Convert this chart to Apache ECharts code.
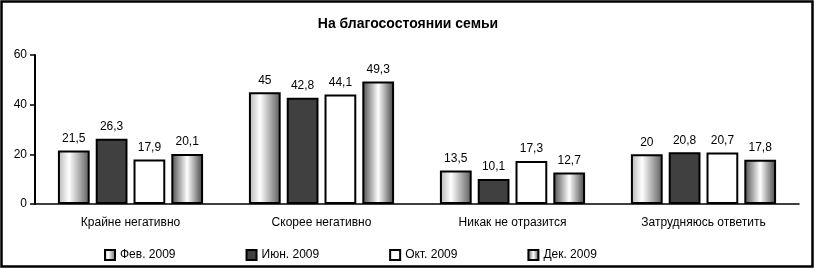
<!DOCTYPE html>
<html>
<head>
<meta charset="utf-8">
<script src="https://cdn.jsdelivr.net/npm/echarts@6/dist/echarts.min.js"></script>
<style>
    html,body{margin:0;padding:0;background:#fff;}
    #main{width:816px;height:269px;}
</style>
</head>
<body>
<div id="main"></div>
<script>
//категории и данные
var categories = ['Крайне негативно', 'Скорее негативно', 'Никак не отразится', 'Затрудняюсь ответить'];
var seriesNames = ['Фев. 2009', 'Июн. 2009', 'Окт. 2009', 'Дек. 2009'];
var febData = [21.5, 45, 13.5, 20];
var junData = [26.3, 42.8, 10.1, 20.8];
var oktData = [17.9, 44.1, 17.3, 20.7];
var dekData = [20.1, 49.3, 12.7, 17.8];
var yTicks = [0, 20, 40, 60];

var font = 'Liberation Sans, Arial';

//заливки столбцов
var grad = function(stops){
    return new echarts.graphic.LinearGradient(0, 0, 1, 0, stops);
};
var fills = [
    grad([{offset:0,color:'#b4b4b4'},{offset:0.35,color:'#ffffff'},{offset:1,color:'#5a5a5a'}]),
    '#404040',
    '#ffffff',
    grad([{offset:0,color:'#4a4a4a'},{offset:0.5,color:'#ffffff'},{offset:1,color:'#404040'}])
];
var allData = [febData, junData, oktData, dekData];

var series = seriesNames.map(function(name, i){
    return {
        name: name,
        type: 'bar',
        data: allData[i],
        barGap: '19%',
        barCategoryGap: '24%',
        itemStyle: {color: fills[i], borderColor: '#000', borderWidth: 2},
        label: {
            show: true,
            position: 'top',
            distance: 6,
            color: '#000',
            fontFamily: font,
            fontSize: 12,
            formatter: function(p){ return String(p.value).replace('.', ','); }
        }
    };
});

var myChart = echarts.init(document.getElementById('main'));
myChart.setOption({
    backgroundColor: '#fff',
    animation: false,
    title: {
        text: 'На благосостоянии семьи',
        left: 'center',
        top: 12,
        textStyle: {fontFamily: font, fontSize: 14, fontWeight: 'bold', color: '#000'}
    },
    legend: {
        left: 99,
        top: 244,
        icon: 'rect',
        itemWidth: 10,
        itemHeight: 10,
        itemGap: 70,
        textStyle: {fontFamily: font, fontSize: 12, color: '#000'},
        data: seriesNames
    },
    grid: {left: 35, right: 17, top: 55, bottom: 65},
    xAxis: {
        type: 'category',
        data: categories,
        axisLine: {lineStyle: {color: '#000', width: 1.5}},
        axisTick: {length: 4, lineStyle: {color: '#000', width: 1.5}},
        axisLabel: {margin: 13, color: '#000', fontFamily: font, fontSize: 12}
    },
    yAxis: {
        type: 'value',
        min: yTicks[0],
        max: yTicks[yTicks.length - 1],
        interval: 20,
        splitLine: {show: false},
        axisLine: {show: true, lineStyle: {color: '#000', width: 2}},
        axisTick: {show: true, length: 5, lineStyle: {color: '#000', width: 1.5}},
        axisLabel: {margin: 8, color: '#000', fontFamily: font, fontSize: 12}
    },
    graphic: [{
        type: 'rect',
        shape: {x: 1.5, y: 1.5, width: 811, height: 265},
        style: {fill: 'none', stroke: '#000', lineWidth: 2.5},
        silent: true
    }],
    series: series
});
</script>
</body>
</html>
